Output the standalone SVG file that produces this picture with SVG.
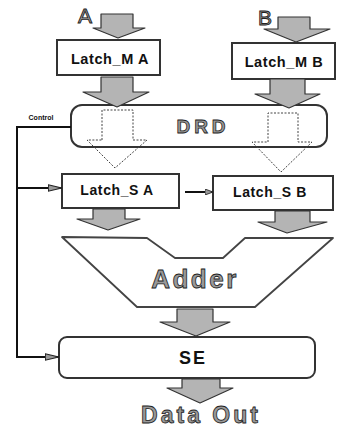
<svg xmlns="http://www.w3.org/2000/svg" width="345" height="430" viewBox="0 0 345 430">
<defs>
<marker id="ah" viewBox="0 0 10 10" refX="10" refY="5" markerWidth="8" markerHeight="6" markerUnits="userSpaceOnUse" orient="auto" preserveAspectRatio="none">
<path d="M0,0 L10,5 L0,10 Z" fill="#999" stroke="#222" stroke-width="1.2"/>
</marker>
<marker id="ahs" viewBox="0 0 10 10" refX="10" refY="5" markerWidth="14" markerHeight="8" markerUnits="userSpaceOnUse" orient="auto" preserveAspectRatio="none">
<path d="M0,1 L10,5 L0,9 Z" fill="#999" stroke="#222" stroke-width="1.2"/>
</marker>
</defs>
<style>
.box{fill:#fff;stroke:#333;stroke-width:2}
.barrow{fill:#b4b4b4;stroke:#333;stroke-width:1.2;stroke-linejoin:round}
.dash{fill:none;stroke:#444;stroke-width:1;stroke-dasharray:2,1.5}
.lbl{font-family:"Liberation Sans",Arial,sans-serif;font-weight:bold;fill:#111;text-anchor:middle}
.big{font-family:"Liberation Sans",Arial,sans-serif;font-weight:bold;fill:#999;stroke:#222;stroke-width:0.8;text-anchor:middle}
.line{fill:none;stroke:#111;stroke-width:2}
</style>
<rect width="345" height="430" fill="#fff"/>

<g id="inputA">
<text x="85" y="23" style="font-family:'Liberation Sans',Arial,sans-serif;font-size:21px;fill:#999;stroke:#222;stroke-width:0.9;text-anchor:middle">A</text>
<path class="barrow" d="M101,14 H133 V28 H145 L118,38 L93,28 H101 Z"/>
</g>
<g id="inputB">
<text x="265" y="25" style="font-family:'Liberation Sans',Arial,sans-serif;font-size:21px;fill:#999;stroke:#222;stroke-width:0.9;text-anchor:middle">B</text>
<path class="barrow" d="M278,17 H310 V29 H330 L296,42 L264,29 H278 Z"/>
</g>

<g id="latchMA">
<rect class="box" x="57" y="40" width="103" height="35"/>
<text class="lbl" x="110" y="64" font-size="14.5" letter-spacing="0.6">Latch_M A</text>
</g>
<g id="latchMB">
<rect class="box" x="232" y="43" width="103" height="36"/>
<text class="lbl" x="284" y="67" font-size="14.5" letter-spacing="0.6">Latch_M B</text>
</g>

<g id="drd">
<rect class="box" x="71" y="105" width="256" height="42" rx="11"/>
<path class="dash" d="M102,140 V110 H133 V140 H147 L115,168 L87,140 Z"/>
<path class="dash" d="M268,142 V113 H298 V142 H312 L281,172 L252,142 Z"/>
<text class="big" x="203" y="133" font-size="19" letter-spacing="4">DRD</text>
</g>

<g id="latchSA">
<rect class="box" x="62" y="174" width="117" height="34"/>
<text class="lbl" x="117" y="195" font-size="14" letter-spacing="0.6">Latch_S A</text>
</g>
<g id="latchSB">
<rect class="box" x="213" y="176" width="120" height="34"/>
<text class="lbl" x="270" y="197" font-size="14" letter-spacing="0.6">Latch_S B</text>
</g>

<g id="adder">
<polygon points="62,237 147,238 175,258 223,258 245,238 333,238 255,307 137,307" fill="#fff" stroke="#444" stroke-width="1.8" stroke-linejoin="round"/>
<text class="big" x="195" y="288" font-size="26" letter-spacing="2.5">Adder</text>
</g>

<g id="se">
<rect class="box" x="59" y="337" width="256" height="41" rx="8"/>
<text class="lbl" x="193" y="364" font-size="18" letter-spacing="2">SE</text>
</g>

<g id="dataOut">
<text class="big" x="201" y="423" font-size="23" letter-spacing="3">Data Out</text>
</g>

<g id="control">
<text x="41" y="120" style="font-family:'Liberation Sans',Arial,sans-serif;font-weight:bold;font-size:7px;fill:#111;text-anchor:middle">Control</text>
</g>

<g id="connectors">
<path class="barrow" d="M101,77 H133 V92 H149 L117,107 L83,92 H101 Z"/>
<path class="barrow" d="M270,79 H305 V94 H320 L289,108 L255,94 H270 Z"/>
<path class="barrow" d="M93,209 H125 V219 H140 L108,230 L77,219 H93 Z"/>
<path class="barrow" d="M275,211 H310 V222 H327 L287,233 L258,222 H275 Z"/>
<path class="barrow" d="M177,309 H213 V322 H230 L196,336 L160,322 H177 Z"/>
<path class="barrow" d="M182,379 H220 V388 H233 L200,403 L167,388 H182 Z"/>
<path class="line" d="M71,127 H17 V357 H59" marker-end="url(#ahs)"/>
<path class="line" d="M17,188 H62" marker-end="url(#ahs)"/>
<path class="line" stroke-width="1.6" d="M185,192 H213" marker-end="url(#ah)"/>
</g>
</svg>
